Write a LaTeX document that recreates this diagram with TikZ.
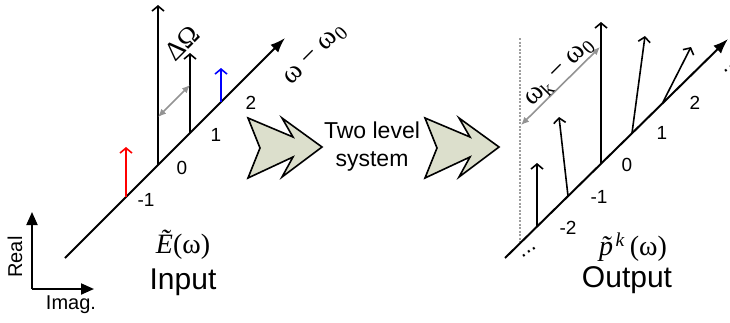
\documentclass[tikz,border=0pt]{standalone}
\usepackage{fontspec}
\setmainfont{Liberation Sans}
\newfontfamily\timesf{Liberation Serif}
\usetikzlibrary{arrows.meta}
\definecolor{chevfill}{RGB}{220,223,204}

\begin{document}
\begin{tikzpicture}[x=1pt,y=-1pt,
  axis/.style={line width=2pt,-{Latex[length=15pt,width=11pt]}},
  spike/.style={line width=1.6pt,-{Straight Barb[length=5pt,width=12pt]}},
  gap/.style={gray!85,line width=1.6pt,{Latex[length=8pt,width=7pt]}-{Latex[length=8pt,width=7pt]}},
  reim/.style={line width=2pt,-{Triangle[length=13pt,width=11pt]}},
  tick/.style={font=\fontsize{19}{19}\selectfont},
  big/.style={font=\fontsize{30}{30}\selectfont},
  chev/.style={draw,line width=1.6pt,fill=chevfill,line join=miter}]
\useasboundingbox (0,0) rectangle (730,322);

% input spectrum
\coordinate (ina) at (65,258);
\coordinate (inb) at (285,38);
\draw[axis] (ina) -- (inb);
\coordinate (im1) at (126,197);  \coordinate (im1t) at (126,147);
\coordinate (i0) at (158,165);   \coordinate (i0t) at (158,5);
\coordinate (ip1) at (190,133);  \coordinate (ip1t) at (190,53);
\coordinate (ip2) at (221,102);  \coordinate (ip2t) at (221,68);
\draw[spike,red] (im1) -- (im1t);
\draw[spike] (i0) -- (i0t);
\draw[spike] (ip1) -- (ip1t);
\draw[spike,blue] (ip2) -- (ip2t);
\coordinate (dwa) at (158,117);
\coordinate (dwb) at (190,85);
\draw[gap] (dwa) -- (dwb);
\node[rotate=45,font=\timesf\fontsize{27}{27}\selectfont] (dw) at (182,43) {ΔΩ};
\node[rotate=45,font=\timesf\fontsize{28}{28}\selectfont] (wlab) at (316,55) {ω − ω\textsubscript{0}};
\node[tick] (lm1) at (146,200) {-1};
\node[tick] (l0) at (182,168) {0};
\node[tick] (l1) at (216,135) {1};
\node[tick] (l2) at (251,103) {2};
\node[font=\timesf\fontsize{28}{28}\selectfont] (ein) at (183,245) {\textit{Ẽ}(ω)};
\node[big] (input) at (183,282) {Input};

% real / imag
\coordinate (ri) at (32,289);
\coordinate (re) at (32,212);
\coordinate (ig) at (94,289);
\draw[reim] (ri) -- (re);
\draw[reim] (ri) -- (ig);
\node[rotate=90,font=\fontsize{20}{20}\selectfont] (real) at (15,257) {Real};
\node[font=\fontsize{20}{20}\selectfont] (imag) at (71,305) {Imag.};

% chevrons
\foreach \dx in {0,177}
  \draw[chev,xshift=\dx pt] (248,118) -- (293,137) -- (282,118) -- (322,147)
    -- (282,177) -- (293,157) -- (248,178) -- (260,148) -- cycle;
\node[align=center,font=\fontsize{23}{28}\selectfont] (tls) at (372,147) {Two level\\system};

% output spectrum
\coordinate (outa) at (505,258);
\coordinate (outb) at (728,39);
\draw[gray!75,line width=1.2pt,dash pattern=on 2pt off 1.5pt] (520,38) -- (520,242);
\draw[axis] (outa) -- (outb);
\coordinate (om2) at (537,226);  \coordinate (om2t) at (537,163);
\coordinate (om1) at (568,196);  \coordinate (om1t) at (559,117);
\coordinate (o0) at (601,163);   \coordinate (o0t) at (601,22);
\coordinate (op1) at (632,133);  \coordinate (op1t) at (645,36);
\coordinate (op2) at (663,102);  \coordinate (op2t) at (691,47);
\foreach \p in {om2,om1,o0,op1,op2}
  \draw[spike] (\p) -- (\p t);
\coordinate (dka) at (521,125);
\coordinate (dkb) at (600,47);
\draw[gap] (dka) -- (dkb);
\node[rotate=45,font=\timesf\fontsize{28}{28}\selectfont] (wk) at (560,73) {ω\textsubscript{k} − ω\textsubscript{0}};
\node[tick] (km2) at (568,228) {-2};
\node[tick] (km1) at (599,197) {-1};
\node[tick] (k0) at (627,165) {0};
\node[tick] (k1) at (662,133) {1};
\node[tick] (k2) at (695,103) {2};
\node[rotate=35,font=\fontsize{22}{22}\selectfont,inner sep=0pt] (dotsa) at (529,252) {...};
\node[rotate=35,font=\fontsize{22}{22}\selectfont,inner sep=0pt] (dotsb) at (731,67) {...};
\node[font=\timesf\fontsize{28}{28}\selectfont] (pout) at (633,247) {\textit{\~p}\kern-0.3em\textsuperscript{\textit{k}}\,(ω)};
\node[big] (output) at (627,280) {Output};
\end{tikzpicture}
\end{document}
